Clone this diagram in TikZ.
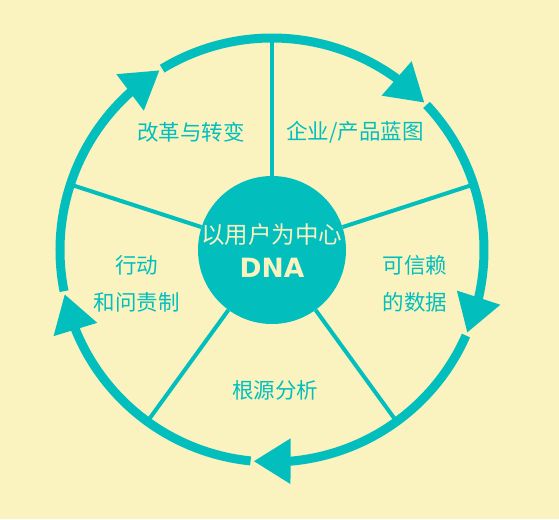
\documentclass[tikz,border=0pt]{standalone}
\usepackage{fontspec}
\setmainfont{Noto Sans CJK SC}
\newfontfamily\dnafont{DejaVu Sans}
\usetikzlibrary{arrows.meta,bending}
\definecolor{qing}{RGB}{2,191,190}
\definecolor{mihuang}{RGB}{250,243,192}

\begin{document}
\begin{tikzpicture}[x=1pt, y=1pt,
    ring/.style={qing, line width=9pt, -{Triangle[length=37pt, width=43pt]}},
    spoke/.style={qing, line width=4pt},
    stage/.style={text=qing, font=\fontsize{21.5}{37}\selectfont, align=center}]

    % 背景
    \fill[mihuang] (-272,-269) rectangle (287,250);
    \useasboundingbox (-272,-269) rectangle (287,250);

    % 外圈上的点
    \coordinate (r1) at (90:212);
    \coordinate (r2) at (18:212);
    \coordinate (r3) at (-54:212);
    \coordinate (r4) at (-126:212);
    \coordinate (r5) at (162:212);

    % 中心圆
    \node[circle, fill=qing, minimum size=148pt, inner sep=0pt] (hub) at (0,0) {};

    % 辐条
    \draw[spoke] (hub) -- (r1);
    \draw[spoke] (hub) -- (r2);
    \draw[spoke] (hub) -- (r3);
    \draw[spoke] (hub) -- (r4);
    \draw[spoke] (hub) -- (r5);

    % 外圈箭头（顺时针）
    \draw[ring] (121.2:212) arc[start angle=121.2, end angle=44, radius=212];
    \draw[ring] (43.2:212) arc[start angle=43.2, end angle=-23, radius=212];
    \draw[ring] (-23.8:212) arc[start angle=-23.8, end angle=-95, radius=212];
    \draw[ring] (-95.8:212) arc[start angle=-95.8, end angle=-168, radius=212];
    \draw[ring] (191.2:212) arc[start angle=191.2, end angle=122, radius=212];

    % 中心文字
    \node[text=mihuang, font=\fontsize{23.5}{28}\selectfont] (zhongxin) at (0,15) {以用户为中心};
    \node[text=mihuang, font=\dnafont\fontsize{26.5}{30}\selectfont\bfseries] (dna) at (0,-18) {DNA};

    % 各阶段
    \node[stage] (gaige) at (-81,118) {改革与转变};
    \node[stage] (lantu) at (83,118) {企业/产品蓝图};
    \node[stage] (shuju) at (143,-33.5) {可信赖\\的数据};
    \node[stage] (wenze) at (-135,-34) {行动\\和问责制};
    \node[stage] (fenxi) at (3,-140) {根源分析};
\end{tikzpicture}
\end{document}
